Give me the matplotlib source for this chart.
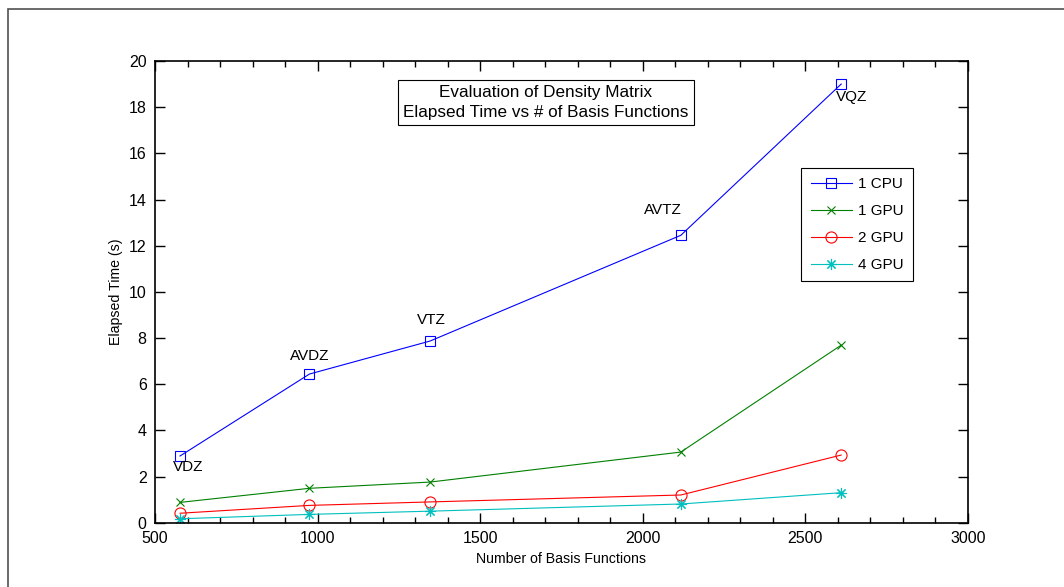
import numpy as np
import matplotlib
matplotlib.use("Agg")
import matplotlib.pyplot as plt
from matplotlib.patches import Rectangle

plt.rcParams['font.family'] = ['Liberation Sans', 'DejaVu Sans']

# Basis set sizes and elapsed times (s)
basis_sets = ['VDZ', 'AVDZ', 'VTZ', 'AVTZ', 'VQZ']
n_basis = [577, 975, 1346, 2117, 2610]
cpu1 = [2.89, 6.44, 7.87, 12.45, 19.0]
gpu1 = [0.88, 1.49, 1.76, 3.06, 7.69]
gpu2 = [0.41, 0.75, 0.90, 1.20, 2.93]
gpu4 = [0.17, 0.36, 0.50, 0.81, 1.30]

# label positions next to the 1 CPU points
label_x = [555, 915, 1306, 2004, 2594]
label_y = [2.42, 7.22, 8.77, 13.55, 18.44]

fig = plt.figure(figsize=(10.64, 5.87), dpi=100)
fig.patches.append(Rectangle((8/1064, -0.1), 1.2, (587-9)/587 + 0.1, transform=fig.transFigure,
                             fill=False, edgecolor='#505050', linewidth=1.2))

ax = fig.add_axes([155/1064, (587-522.7)/587, (968-155)/1064, (522.7-61)/587])

ax.plot(n_basis, cpu1, color='b', lw=0.8, marker='s', ms=7, mfc='none', mew=0.8, label='1 CPU')
ax.plot(n_basis, gpu1, color=(0, 0.5, 0), lw=0.8, marker='x', ms=6, mew=0.8, label='1 GPU')
ax.plot(n_basis, gpu2, color='r', lw=0.8, marker='o', ms=8, mfc='none', mew=0.8, label='2 GPU')
ax.plot(n_basis, gpu4, color=(0, 0.75, 0.75), lw=0.8, marker=(8, 2, 0), ms=8, mew=0.8, label='4 GPU')

for name, lx, ly in zip(basis_sets, label_x, label_y):
    ax.text(lx, ly, name, fontsize=11, ha='left', va='center')

ax.set_xlim(500, 3000)
ax.set_ylim(0, 20)
ax.set_xticks(np.arange(500, 3001, 500))
ax.set_xticks(np.arange(500, 3001, 100), minor=True)
ax.set_yticks(np.arange(0, 21, 2))
ax.tick_params(which='both', direction='in', top=True, right=True, labelsize=11.5, width=1)
ax.tick_params(which='major', length=7, pad=6)
ax.tick_params(which='minor', length=4)
for s in ax.spines.values():
    s.set_linewidth(1.2)

ax.set_xlabel('Number of Basis Functions', fontsize=10.2)
ax.set_ylabel('Elapsed Time (s)', fontsize=10.2)

ax.text(0.481, 0.910, 'Evaluation of Density Matrix\nElapsed Time vs # of Basis Functions',
        transform=ax.transAxes, ha='center', va='center', fontsize=12.3, linespacing=1.45,
        bbox=dict(boxstyle='square,pad=0.3', fc='white', ec='black', lw=0.8))

leg = ax.legend(loc='upper right', bbox_to_anchor=(0.932, 0.768), fontsize=11,
                fancybox=False, edgecolor='black', framealpha=1, handlelength=2.7,
                handletextpad=0.4, labelspacing=0.85, borderpad=0.6, borderaxespad=0)
leg.get_frame().set_linewidth(0.8)

fig.savefig('out.png', dpi=100)
